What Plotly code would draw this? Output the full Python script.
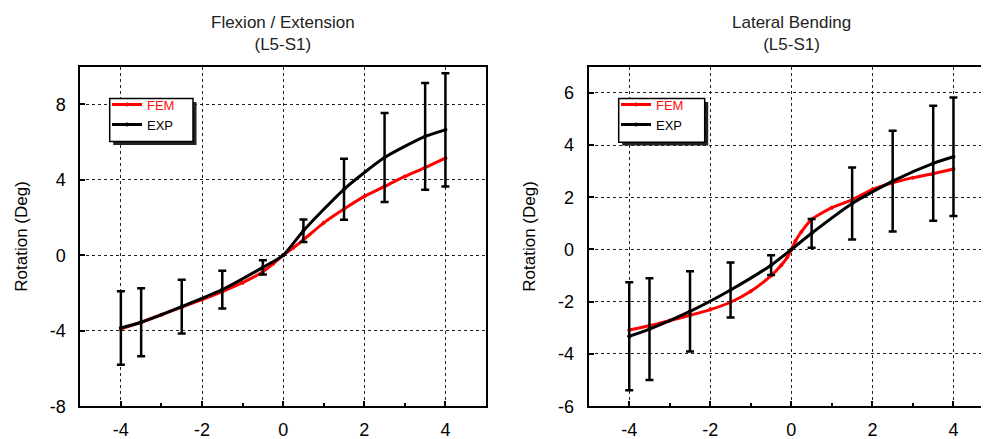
import plotly.graph_objects as go

# ---------------- data ----------------
# Flexion / Extension (L5-S1)
fe_fem_x = [-4, -3.5, -3, -2.5, -2, -1.5, -1, -0.5, -0.25, 0, 0.25, 0.5, 1, 1.5, 2, 2.5, 3, 3.5, 4]
fe_fem_y = [-3.9, -3.55, -3.15, -2.75, -2.35, -1.92, -1.45, -0.87, -0.45, 0, 0.4, 0.82, 1.72, 2.45, 3.12, 3.65, 4.18, 4.65, 5.15]
fe_exp_x = [-4, -3.5, -2.5, -1.5, -0.5, 0, 0.5, 1.5, 2.5, 3.5, 4]
fe_exp_y = [-3.85, -3.55, -2.72, -1.82, -0.64, 0, 1.3, 3.5, 5.18, 6.3, 6.65]
fe_exp_sd = [1.95, 1.8, 1.42, 1.0, 0.38, 0, 0.6, 1.62, 2.36, 2.83, 3.0]

# Lateral Bending (L5-S1)
lb_fem_x = [-4, -3.5, -3, -2.5, -2, -1.5, -1, -0.5, -0.25, -0.1, 0, 0.1, 0.25, 0.5, 1, 1.5, 2, 2.5, 3, 3.5, 4]
lb_fem_y = [-3.08, -2.92, -2.72, -2.52, -2.3, -2.02, -1.6, -1.0, -0.6, -0.3, 0, 0.32, 0.68, 1.15, 1.6, 1.9, 2.3, 2.55, 2.75, 2.9, 3.08]
lb_exp_x = [-4, -3.5, -2.5, -1.5, -0.5, 0, 0.5, 1.5, 2.5, 3.5, 4]
lb_exp_y = [-3.32, -3.05, -2.37, -1.55, -0.6, 0, 0.62, 1.76, 2.62, 3.3, 3.55]
lb_exp_sd = [2.07, 1.95, 1.54, 1.05, 0.38, 0, 0.55, 1.38, 1.93, 2.2, 2.27]

# tick labels
x_ticks = [-4, -2, 0, 2, 4]
x_ticktext = ["-4", "-2", "0", "2", "4"]
fe_y_ticks = [-8, -4, 0, 4, 8]
fe_y_ticktext = ["-8", "-4", "0", "4", "8"]
lb_y_ticks = [-6, -4, -2, 0, 2, 4, 6]
lb_y_ticktext = ["-6", "-4", "-2", "0", "2", "4", "6"]

titles = ["Flexion / Extension<br>(L5-S1)", "Lateral Bending<br>(L5-S1)"]
y_label = "Rotation (Deg)"
fem_name = '<span style="color:#ff1010">FEM</span>'
exp_name = "EXP"

W, H = 989, 439
FONT = "Liberation Sans, Arial, sans-serif"

fig = go.Figure()

panels = [
    dict(fx=fe_fem_x, fy=fe_fem_y, ex=fe_exp_x, ey=fe_exp_y, sd=fe_exp_sd,
         xa="x", ya="y", legend="legend"),
    dict(fx=lb_fem_x, fy=lb_fem_y, ex=lb_exp_x, ey=lb_exp_y, sd=lb_exp_sd,
         xa="x2", ya="y2", legend="legend2"),
]

for p in panels:
    # FEM curve
    fig.add_trace(go.Scatter(
        x=p["fx"], y=p["fy"], mode="lines+markers", name=fem_name,
        line=dict(color="#ff0000", width=3, shape="spline", smoothing=0.6),
        marker=dict(size=4, color="#ff0000"),
        xaxis=p["xa"], yaxis=p["ya"], legend=p["legend"]))
    # EXP error bars (points with a spread only)
    bx = [x for x, s in zip(p["ex"], p["sd"]) if s > 0]
    by = [y for y, s in zip(p["ey"], p["sd"]) if s > 0]
    bs = [s for s in p["sd"] if s > 0]
    fig.add_trace(go.Scatter(
        x=bx, y=by, mode="markers", showlegend=False,
        marker=dict(size=1, color="black", opacity=0),
        error_y=dict(type="data", array=bs, visible=True, color="black",
                     thickness=2.5, width=4),
        xaxis=p["xa"], yaxis=p["ya"]))
    # EXP curve
    fig.add_trace(go.Scatter(
        x=p["ex"], y=p["ey"], mode="lines+markers", name=exp_name,
        line=dict(color="black", width=3, shape="spline", smoothing=0.6),
        marker=dict(size=4, color="black"),
        xaxis=p["xa"], yaxis=p["ya"], legend=p["legend"]))

# plot frames in pixels
L = dict(x0=72.3, x1=478.0)
R = dict(x0=580.7, x1=986.0)
top_px, bot_px = 60.0, 407.5
yd = [(H - bot_px) / H, (H - top_px) / H]

tickfont = dict(family=FONT, size=18, color="black")
common_x = dict(range=[-5, 5], tickvals=x_ticks, ticktext=x_ticktext, showgrid=True,
                gridcolor="#222", griddash="dot", gridwidth=1.3, zeroline=False, showline=True,
                linecolor="black", linewidth=2, mirror=True, ticks="inside",
                ticklen=5, tickwidth=1.5, tickcolor="black", ticklabelstandoff=6,
                minor=dict(dtick=1, tick0=0, ticks="inside", ticklen=3, tickcolor="black", showgrid=False),
                tickfont=tickfont)
common_y = dict(showgrid=True, gridcolor="#222", griddash="dot", gridwidth=1.3,
                zeroline=False, showline=True, linecolor="black", linewidth=2, mirror=True,
                ticks="inside", ticklen=5, tickwidth=1.5, tickcolor="black",
                ticklabelstandoff=9, tickfont=tickfont,
                title=dict(text=y_label, font=dict(family=FONT, size=17, color="black"), standoff=18))

legend_common = dict(xanchor="left", yanchor="top", bgcolor="rgba(0,0,0,0)",
                     borderwidth=0, font=dict(family=FONT, size=13, color="black"),
                     tracegroupgap=0)

fig.update_layout(
    width=W, height=H, margin=dict(l=0, r=0, t=0, b=0),
    paper_bgcolor="white", plot_bgcolor="white",
    xaxis=dict(domain=[L["x0"] / W, L["x1"] / W], anchor="y", **common_x),
    yaxis=dict(domain=yd, anchor="x", range=[-8, 10], tickvals=fe_y_ticks,
               ticktext=fe_y_ticktext, **common_y),
    xaxis2=dict(domain=[R["x0"] / W, R["x1"] / W], anchor="y2", **common_x),
    yaxis2=dict(domain=yd, anchor="x2", range=[-6, 7], tickvals=lb_y_ticks,
                ticktext=lb_y_ticktext, **common_y),
    legend=dict(x=99 / W, y=1 - 83.5 / H, **legend_common),
    legend2=dict(x=608 / W, y=1 - 83.5 / H, **legend_common),
    showlegend=True,
)

# titles
for frame, t in zip([L, R], titles):
    fig.add_annotation(x=(frame["x0"] + frame["x1"]) / 2 / W, y=1 - 3 / H, xref="paper", yref="paper",
                       text=t, showarrow=False, xanchor="center", yanchor="top",
                       font=dict(family=FONT, size=17, color="#222"))

# legend boxes with drop shadows
for (bx0, bx1, by0, by1) in [(101.7, 185.0, 92.7, 136.7), (610.7, 696.7, 92.7, 137.3)]:
    fig.add_shape(type="rect", xref="paper", yref="paper",
                  x0=(bx0 + 3.5) / W, x1=(bx1 + 3.5) / W,
                  y0=1 - (by1 + 3.5) / H, y1=1 - (by0 + 3.5) / H,
                  fillcolor="#222", line=dict(width=0), layer="above")
    fig.add_shape(type="rect", xref="paper", yref="paper",
                  x0=bx0 / W, x1=bx1 / W, y0=1 - by1 / H, y1=1 - by0 / H,
                  fillcolor="white", line=dict(color="black", width=1.5), layer="above")

fig.write_html("out.html")
